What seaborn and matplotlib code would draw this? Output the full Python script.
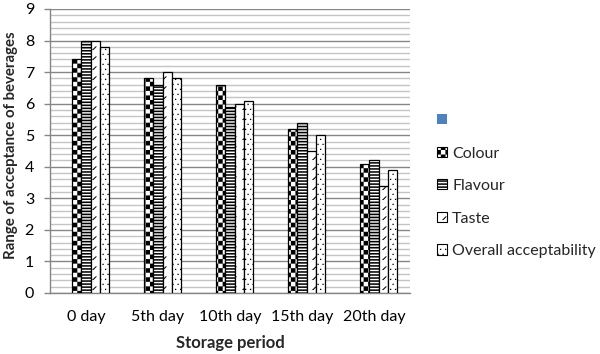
import warnings
warnings.filterwarnings('ignore')
import numpy as np
import pandas as pd
import matplotlib
matplotlib.use('Agg')
import matplotlib.pyplot as plt
from matplotlib import hatch as mhatch
from matplotlib.path import Path
from matplotlib.patches import Patch
from matplotlib.ticker import MultipleLocator
import seaborn as sns

# ---------------- data ----------------
periods = ["0 day", "5th day", "10th day", "15th day", "20th day"]
attributes = [" ", "Colour", "Flavour", "Taste", "Overall acceptability"]
blank = [0, 0, 0, 0, 0]          # unnamed empty series shown first in legend
colour = [7.4, 6.8, 6.6, 5.2, 4.1]
flavour = [8.0, 6.6, 5.9, 5.4, 4.2]
taste = [8.0, 7.0, 6.0, 4.5, 3.4]
overall = [7.8, 6.8, 6.1, 5.0, 3.9]
y_ticks = [0, 1, 2, 3, 4, 5, 6, 7, 8, 9]

# ---------------- custom hatch patterns (filled shapes) ----------------
def _rect(x0, y0, w, h):
    return [[x0, y0], [x0 + w, y0], [x0 + w, y0 + h], [x0, y0 + h], [x0, y0]]

_CODES5 = [Path.MOVETO, Path.LINETO, Path.LINETO, Path.LINETO, Path.CLOSEPOLY]


class _ShapeHatch(mhatch.HatchPatternBase):
    char = '?'

    def __init__(self, hatch, density):
        self.polys = self.build() if (hatch and self.char in hatch) else []
        self.num_vertices = 5 * len(self.polys)

    def set_vertices_and_codes(self, vertices, codes):
        k = 0
        for p in self.polys:
            vertices[k:k + 5] = p
            codes[k:k + 5] = _CODES5
            k += 5


class CheckerHatch(_ShapeHatch):
    char = 'c'

    def build(self):
        n = 22
        s = 1.0 / n
        return [_rect(i * s, j * s, s, s) for i in range(n) for j in range(n)
                if (i + j) % 2 == 0]


class StripeHatch(_ShapeHatch):
    char = 's'

    def build(self):
        n = 33
        s = 1.0 / n
        return [_rect(0, j * s, 1.0, s * 0.5) for j in range(n)]


class DashHatch(_ShapeHatch):
    char = 'd'

    def build(self):
        n = 10
        s = 1.0 / n
        d, t = 0.035, 0.014
        polys = []
        for i in range(n):
            for j in range(n):
                x0 = i * s + 0.02
                y0 = j * s
                polys.append([[x0, y0], [x0 + t, y0], [x0 + t + d, y0 + d],
                              [x0 + d, y0 + d], [x0, y0]])
        return polys


class DotHatch(_ShapeHatch):
    char = 'p'

    def build(self):
        n = 20
        s = 1.0 / n
        r = 0.012
        polys = []
        for i in range(n):
            for j in range(n):
                x0 = i * s + (s / 2 if j % 2 else 0)
                polys.append(_rect(x0 % 1.0, j * s, r, r))
        return polys


for cls in (CheckerHatch, StripeHatch, DashHatch, DotHatch):
    mhatch._hatch_types.append(cls)

hatches = [None, 'c', 's', 'd', 'p']
faces = ['#4F81BD', 'white', 'white', 'white', 'white']

# ---------------- table ----------------
df = pd.DataFrame({
    "period": periods * 5,
    "attribute": sum([[a] * len(periods) for a in attributes], []),
    "value": blank + colour + flavour + taste + overall,
})

sns.set_theme(style="white")
plt.rcParams['font.family'] = ['Lato', 'DejaVu Sans']
plt.rcParams['hatch.linewidth'] = 0.05
plt.rcParams['hatch.color'] = 'black'

FS = 11.5
fig = plt.figure(figsize=(6.0, 3.54), dpi=100)
ax = fig.add_axes([50 / 600, 61 / 354, 360 / 600, 284 / 354])

sns.barplot(data=df, x="period", y="value", hue="attribute", order=periods,
            hue_order=attributes, palette=faces, width=0.64,
            edgecolor='black', linewidth=0.9, saturation=1, legend=False,
            ax=ax, zorder=3)

for cont, h, fc in zip(ax.containers, hatches, faces):
    for bar in cont:
        bar.set_facecolor(fc)
        if h is None:
            bar.set_linewidth(0)
        else:
            bar.set_hatch(h)
            bar.set_edgecolor('black')

ax.set_ylim(0, 9)
ax.set_xlim(-0.5, 4.5)
ax.set_yticks(y_ticks)
ax.yaxis.set_minor_locator(MultipleLocator(0.2))
ax.grid(True, which='major', axis='y', color='#868686', linewidth=1.0, zorder=0)
ax.grid(True, which='minor', axis='y', color='#c4c4c4', linewidth=1.0, zorder=0)
ax.set_axisbelow(True)

for s in ['top', 'right']:
    ax.spines[s].set_visible(False)
for s in ['left', 'bottom']:
    ax.spines[s].set_color('#868686')
    ax.spines[s].set_linewidth(1.0)

ax.tick_params(axis='y', which='major', length=4.5, width=1, color='#868686',
               direction='out', left=True, pad=7, labelsize=FS, labelcolor='black')
ax.tick_params(axis='y', which='minor', length=0)
ax.tick_params(axis='x', length=0, pad=12, labelsize=FS, labelcolor='black')

ax.set_xlabel("Storage period", fontsize=12, fontweight='bold', labelpad=8)
ax.set_ylabel("Range of acceptance of beverages", fontsize=10.8,
              fontweight='bold')
ax.yaxis.set_label_coords(-32 / 360, 0.52)

handles = []
for a, h, fc in zip(attributes, hatches, faces):
    if h is None:
        handles.append(Patch(facecolor=fc, edgecolor='none', label=a))
    else:
        handles.append(Patch(facecolor=fc, edgecolor='black', hatch=h,
                             linewidth=0.8, label=a))
fig.legend(handles=handles, loc='upper left', bbox_to_anchor=(437 / 600, 1 - 114 / 354),
           frameon=False, fontsize=FS, handlelength=0.6, handleheight=0.6,
           handletextpad=0.35, labelspacing=1.16, borderaxespad=0, borderpad=0)

fig.savefig("out.png", dpi=100)
